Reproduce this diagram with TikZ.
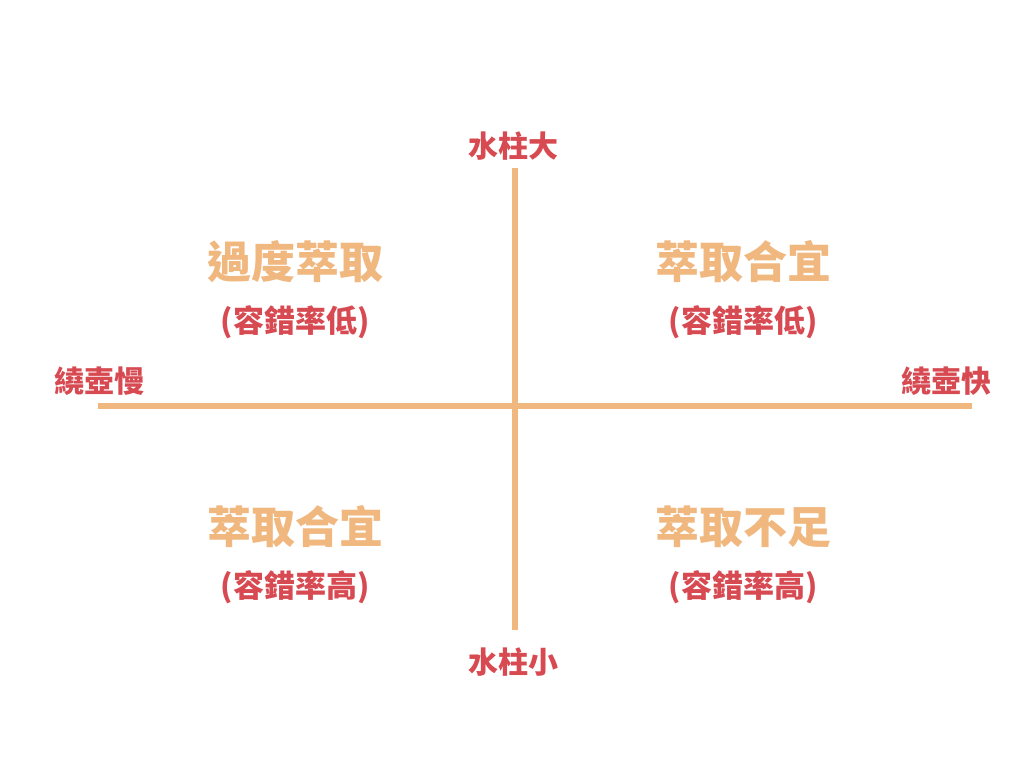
\documentclass[tikz,border=0pt]{standalone}
\usepackage{fontspec}
\usepackage{tikz}
\usetikzlibrary{positioning}
\newfontfamily\cjk{Noto Sans CJK TC}
\definecolor{axisred}{HTML}{D84A52}
\definecolor{brew}{HTML}{F0B77E}
\tikzset{
	axislabel/.style = {font = \cjk\bfseries\fontsize{30pt}{33pt}\selectfont, text = axisred, inner sep = 0pt},
	zone/.style = {font = \cjk\bfseries\fontsize{44pt}{48pt}\selectfont, text = brew, inner sep = 0pt},
	tolerance/.style = {font = \cjk\bfseries\fontsize{31pt}{34pt}\selectfont, text = axisred, inner sep = 0pt},
	axisline/.style = {draw = brew, line width = 6pt}
}

\begin{document}
\begin{tikzpicture}[x = 1pt, y = 1pt, node distance = 22pt]
		\useasboundingbox[fill = white] (0,0) rectangle (1024,768);
		% axes
		\coordinate (top) at (515,600);
		\coordinate (bottom) at (515,138);
		\coordinate (left) at (98,362);
		\coordinate (right) at (972,362);
		\draw[axisline] (left) -- (right);
		\draw[axisline] (top) -- (bottom);
		% axis labels
		\node[axislabel] (big) at (513,622) {水柱大};
		\node[axislabel] (small) at (513,106) {水柱小};
		\node[axislabel] (slow) at (99,387) {繞壺慢};
		\node[axislabel] (fast) at (946,387) {繞壺快};
		% quadrants
		\node[zone] (over) at (295,506) {過度萃取};
		\node[tolerance, below = of over] (overtol) {(容錯率低)};
		\node[zone] (fitA) at (743,506) {萃取合宜};
		\node[tolerance, below = of fitA] (fitAtol) {(容錯率低)};
		\node[zone] (fitB) at (295,241) {萃取合宜};
		\node[tolerance, below = of fitB] (fitBtol) {(容錯率高)};
		\node[zone] (under) at (743,241) {萃取不足};
		\node[tolerance, below = of under] (undertol) {(容錯率高)};
	\end{tikzpicture}
\end{document}
